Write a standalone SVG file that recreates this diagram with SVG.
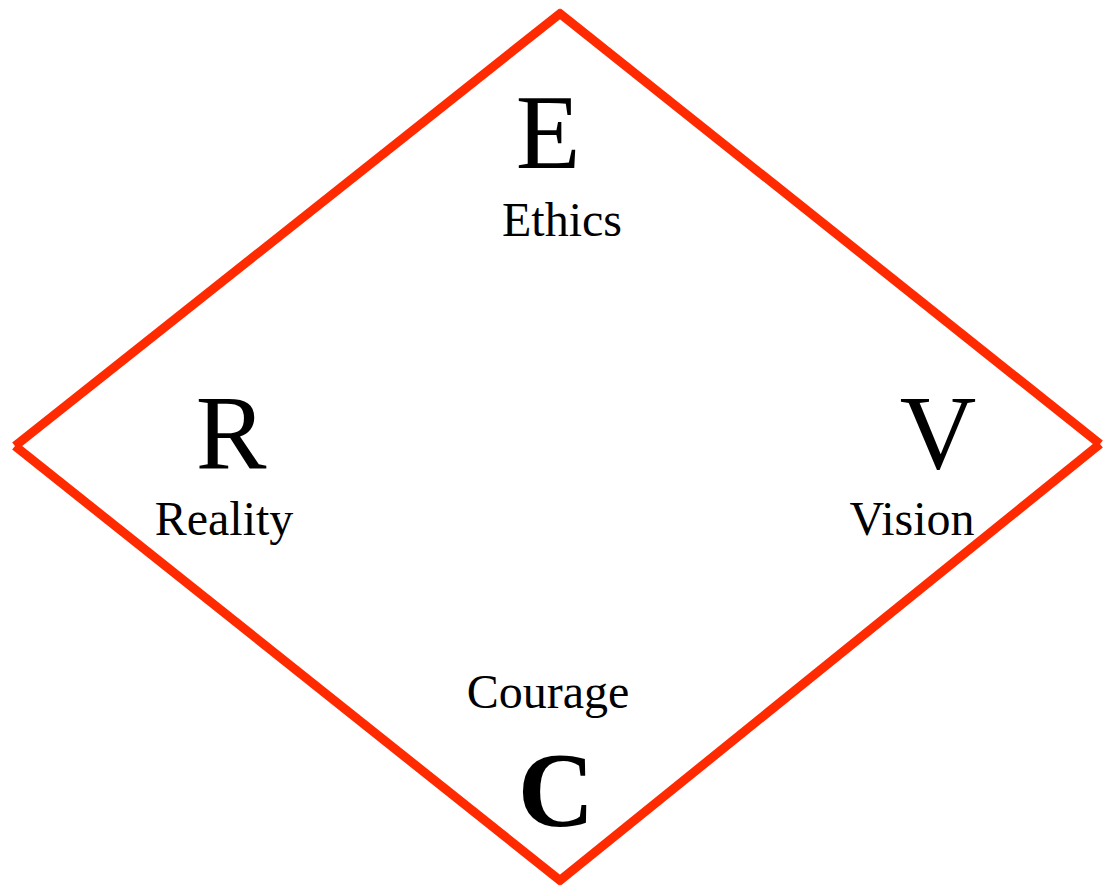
<svg xmlns="http://www.w3.org/2000/svg" width="1103" height="892" viewBox="0 0 1103 892">
<defs>
<style>
.edge{stroke:#ff2a00;stroke-width:9;fill:none;stroke-linecap:butt}
.big{font-family:"Liberation Serif",serif;font-size:106px;fill:#000;text-anchor:middle}
.lbl{font-family:"Liberation Serif",serif;font-size:48px;fill:#000;text-anchor:middle}
</style>
</defs>
<rect width="1103" height="892" fill="#fff"/>
<g id="connectors">
<line class="edge" x1="562" y1="12" x2="15" y2="446"/>
<line class="edge" x1="558" y1="12" x2="1100" y2="444"/>
<line class="edge" x1="15" y1="446" x2="562" y2="882"/>
<line class="edge" x1="1100" y1="444" x2="558" y2="882"/>
</g>
<g id="node-E"><text class="big" x="548" y="168">E</text><text class="lbl" x="562" y="236">Ethics</text></g>
<g id="node-R"><text class="big" x="231" y="468">R</text><text class="lbl" x="224" y="535">Reality</text></g>
<g id="node-V"><text class="big" x="938" y="468">V</text><text class="lbl" x="912" y="535">Vision</text></g>
<g id="node-C"><text class="lbl" x="548" y="708">Courage</text><text class="big" x="556" y="826" font-weight="bold">C</text></g>
</svg>
